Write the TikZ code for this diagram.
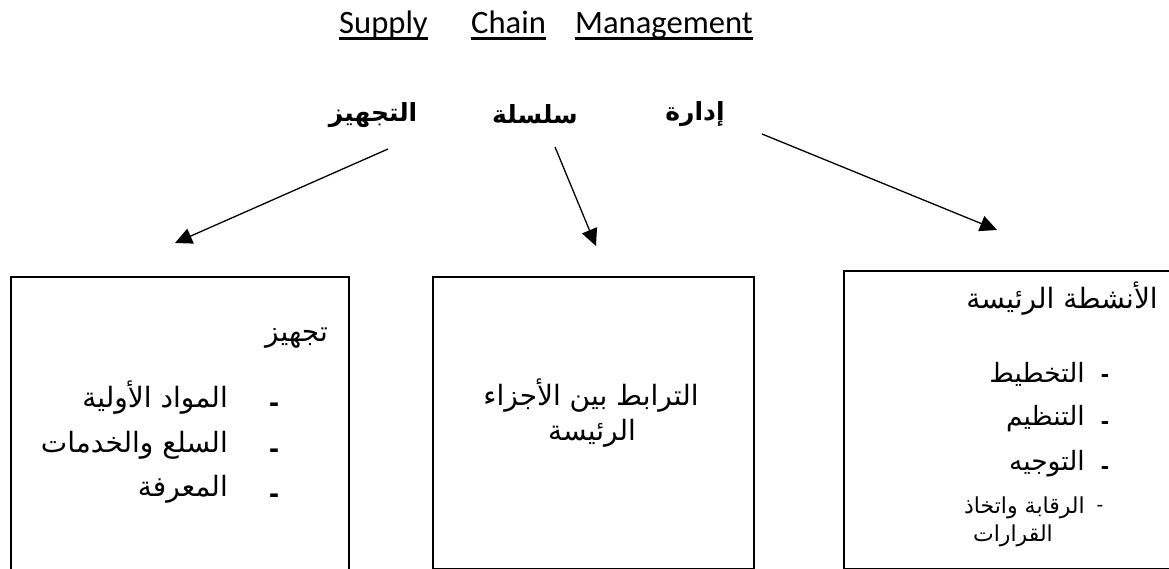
\documentclass[tikz,border=0pt]{standalone}
\usepackage{fontspec}
\usetikzlibrary{arrows.meta}
\setmainfont{Carlito}
\newfontfamily\arabicfont[Script=Arabic]{DejaVu Sans}
\newfontfamily\dashfont{Liberation Sans}
\TeXXeTstate=1
\newcommand\artxt[1]{\beginR #1\endR}
\begin{document}
\begin{tikzpicture}[x=1pt,y=-1pt,
  ttl/.style={font=\fontsize{32.6}{39}\selectfont, inner sep=0, anchor=base west},
  head/.style={font=\arabicfont\bfseries\fontsize{25}{30}\selectfont, inner sep=0},
  box/.style={draw, line width=1.6pt, rectangle, inner sep=0},
  arr/.style={line width=1.3pt, -{Triangle[length=17pt,width=16pt]}},
  txt/.style={font=\arabicfont\fontsize{28}{32}\selectfont, inner sep=0, anchor=base east},
  big/.style={font=\arabicfont\fontsize{26.5}{30}\selectfont, inner sep=0, anchor=base east},
  small/.style={font=\arabicfont\fontsize{22}{26}\selectfont, inner sep=0, anchor=base east},
  bar/.style={font=\dashfont\bfseries\fontsize{30}{34}\selectfont, inner sep=0, anchor=base},
  rbar/.style={font=\dashfont\bfseries\fontsize{25}{30}\selectfont, inner sep=0, anchor=base},
  sbar/.style={font=\dashfont\fontsize{20}{24}\selectfont, inner sep=0, anchor=base}]
\useasboundingbox (0,0) rectangle (1169,569);
\fill[white] (0,0) rectangle (1169,569);

% title, each word underlined on its own
\node[ttl] (w1) at (339,33.3) {Supply};
\node[ttl] (w2) at (471,33.3) {Chain};
\node[ttl] (w3) at (575,33.3) {Management};
\foreach \w in {w1,w2,w3}
  \draw[line width=2.7pt] ([yshift=-5.4pt]\w.base west) -- ([yshift=-5.4pt]\w.base east);

% the three Arabic words of the heading
\node[head] (h1) at (373,115) {\artxt{التجهيز}};
\node[head] (h2) at (535,114) {\artxt{سلسلة}};
\node[head] (h3) at (695,114) {\artxt{إدارة}};

% arrows down to the boxes
\coordinate (s1) at (388,149); \coordinate (t1) at (175,243);
\coordinate (s2) at (555,147); \coordinate (t2) at (596,246);
\coordinate (s3) at (762,134); \coordinate (t3) at (997,230);
\draw[arr] (s1) -- (t1);
\draw[arr] (s2) -- (t2);
\draw[arr] (s3) -- (t3);

% boxes
\node[box, minimum width=338pt, minimum height=320pt, anchor=north west] (b1) at (10,276) {};
\node[box, minimum width=321pt, minimum height=292pt, anchor=north west] (b2) at (432,276) {};
\node[box, minimum width=340pt, minimum height=298pt, anchor=north west] (b3) at (843,270) {};

% left box
\node[txt] (l0) at (328,341) {\artxt{تجهيز}};
\node[txt] (l1) at (228,407) {\artxt{المواد الأولية}};
\node[txt] (l2) at (228,452) {\artxt{السلع والخدمات}};
\node[txt] (l3) at (228,496) {\artxt{المعرفة}};
\node[bar] (d1) at (274,412) {-};
\node[bar] (d2) at (274,458) {-};
\node[bar] (d3) at (274,503) {-};

% middle box
\node[txt, anchor=base] (m1) at (591,405) {\artxt{الترابط بين الأجزاء}};
\node[txt, anchor=base] (m2) at (592,440) {\artxt{الرئيسة}};

% right box
\node[txt] (r0) at (1158,308) {\artxt{الأنشطة الرئيسة}};
\node[big] (r1) at (1085,382) {\artxt{التخطيط}};
\node[big] (r2) at (1085,425) {\artxt{التنظيم}};
\node[big] (r3) at (1085,470) {\artxt{التوجيه}};
\node[small] (r4) at (1085,513) {\artxt{الرقابة واتخاذ}};
\node[small] (r5) at (1053,541) {\artxt{القرارات}};
\node[rbar] (e1) at (1105,382) {-};
\node[rbar] (e2) at (1105,429) {-};
\node[rbar] (e3) at (1105,474) {-};
\node[sbar] (e4) at (1100,511) {-};
\end{tikzpicture}
\end{document}
